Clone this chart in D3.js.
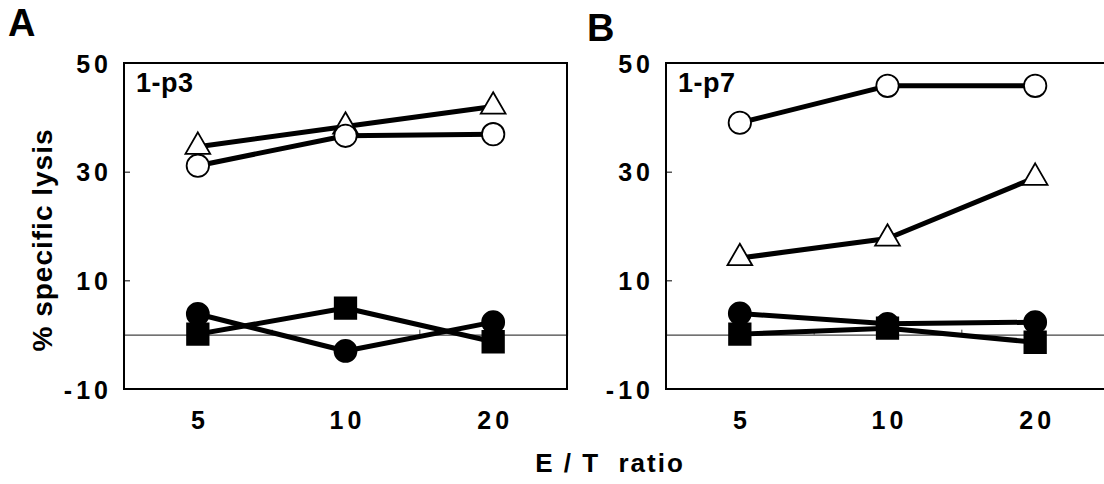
<!DOCTYPE html>
<html>
<head>
<meta charset="utf-8">
<script src="https://cdn.jsdelivr.net/npm/d3@7"></script>
<style>
  html, body { margin: 0; padding: 0; background: #fff; }
  svg { display: block; }
  text { font-family: "Liberation Sans", Arial, sans-serif; font-weight: bold; fill: #000; }
</style>
</head>
<body>
<svg id="chart" width="1104" height="484"></svg>
<script>
// ---- data ----
const categories = ["5", "10", "20"];
const yTicks = [-10, 10, 30, 50];
const panelLetters = ["A", "B"];
const panelTitles = ["1-p3", "1-p7"];
// panel A (1-p3)
const a_triangle = [34.6, 38.3, 42.0];
const a_openCircle = [31.1, 36.6, 36.9];
const a_filledCircle = [3.8, -3.0, 2.3];
const a_square = [0.1, 4.9, -1.3];
// panel B (1-p7)
const b_triangle = [14.1, 17.7, 28.9];
const b_openCircle = [39.0, 45.8, 45.8];
const b_filledCircle = [3.9, 2.0, 2.3];
const b_square = [0.1, 1.2, -1.4];

const panels = [
  { letter: panelLetters[0], title: panelTitles[0], left: 124, right: 567,
    series: [
      { type: "triangle", values: a_triangle },
      { type: "openCircle", values: a_openCircle },
      { type: "filledCircle", values: a_filledCircle },
      { type: "square", values: a_square }
    ] },
  { letter: panelLetters[1], title: panelTitles[1], left: 666, right: 1109,
    series: [
      { type: "openCircle", values: b_openCircle },
      { type: "triangle", values: b_triangle },
      { type: "filledCircle", values: b_filledCircle },
      { type: "square", values: b_square }
    ] }
];

const svg = d3.select("#chart");
const plotTop = 63, plotBottom = 389;
const y = d3.scaleLinear().domain([-10, 50]).range([plotBottom, plotTop]);

const symbols = {
  triangle: { sym: d3.symbolTriangle, size: 265, fill: "#fff" },
  openCircle: { sym: d3.symbolCircle, size: Math.PI * 11.2 * 11.2, fill: "#fff" },
  filledCircle: { sym: d3.symbolCircle, size: Math.PI * 11 * 11, fill: "#000" },
  square: { sym: d3.symbolSquare, size: 21.5 * 21.5, fill: "#000" }
};

panels.forEach((p, pi) => {
  const g = svg.append("g");
  const x = d3.scaleBand().domain(categories).range([p.left, p.right]);
  const cx = d => x(d) + x.bandwidth() / 2;

  // panel letter
  g.append("text").attr("x", pi === 0 ? 8 : 587).attr("y", pi === 0 ? 36 : 41)
    .style("font-size", "38px").text(p.letter);

  // zero line with boundary ticks
  const xb = d3.scaleLinear().domain([0, categories.length]).range([p.left, p.right]);
  const zeroAxis = g.append("g").attr("transform", `translate(0,${y(0)})`)
    .call(d3.axisBottom(xb).tickValues([1, 2]).tickSize(-5).tickFormat(""));
  zeroAxis.select(".domain").attr("stroke", "#444").attr("stroke-width", 1.2);
  zeroAxis.selectAll(".tick line").attr("stroke", "#444").attr("stroke-width", 1);

  // y axis
  const yAxis = g.append("g").attr("transform", `translate(${p.left},0)`)
    .call(d3.axisLeft(y).tickValues(yTicks).tickSize(-6).tickPadding(16).tickFormat(d => String(d)));
  yAxis.select(".domain").remove();
  yAxis.selectAll(".tick line").attr("stroke", "#000").attr("stroke-width", 1);
  yAxis.selectAll(".tick text").style("font-size", "25px").style("letter-spacing", "4px")
    .attr("font-family", null).attr("dx", "4px").attr("dy", "0.36em");

  // category axis labels
  const xAxis = g.append("g").attr("transform", `translate(0,${plotBottom})`)
    .call(d3.axisBottom(x).tickSize(0).tickPadding(22));
  xAxis.select(".domain").remove();
  xAxis.selectAll(".tick text").style("font-size", "25px").style("letter-spacing", "4px")
    .attr("font-family", null).attr("dx", "2px");

  // plot box
  g.append("rect").attr("x", p.left).attr("y", plotTop)
    .attr("width", p.right - p.left).attr("height", plotBottom - plotTop)
    .attr("fill", "none").attr("stroke", "#000").attr("stroke-width", 2);

  // panel title
  g.append("text").attr("x", p.left + 12).attr("y", 92)
    .style("font-size", "27px").style("letter-spacing", "0.5px").text(p.title);

  // series
  const line = d3.line().x((d, i) => cx(categories[i])).y(d => y(d));
  p.series.forEach(s => {
    g.append("path").datum(s.values).attr("d", line)
      .attr("fill", "none").attr("stroke", "#000").attr("stroke-width", 5)
      .attr("stroke-linejoin", "round");
  });
  p.series.forEach(s => {
    const st = symbols[s.type];
    g.selectAll(null).data(s.values).enter().append("path")
      .attr("transform", (d, i) => `translate(${cx(categories[i])},${y(d)})`)
      .attr("d", d3.symbol().type(st.sym).size(st.size))
      .attr("fill", st.fill).attr("stroke", "#000").attr("stroke-width", 1.8);
  });
});

// axis titles
svg.append("text").attr("transform", "translate(52,240) rotate(-90)")
  .attr("text-anchor", "middle").style("font-size", "28px").style("letter-spacing", "1px")
  .text("% specific lysis");
svg.append("text").attr("x", 610).attr("y", 472).attr("text-anchor", "middle")
  .style("font-size", "26px").style("letter-spacing", "2px").attr("xml:space", "preserve")
  .text("E / T  ratio");
</script>
</body>
</html>
